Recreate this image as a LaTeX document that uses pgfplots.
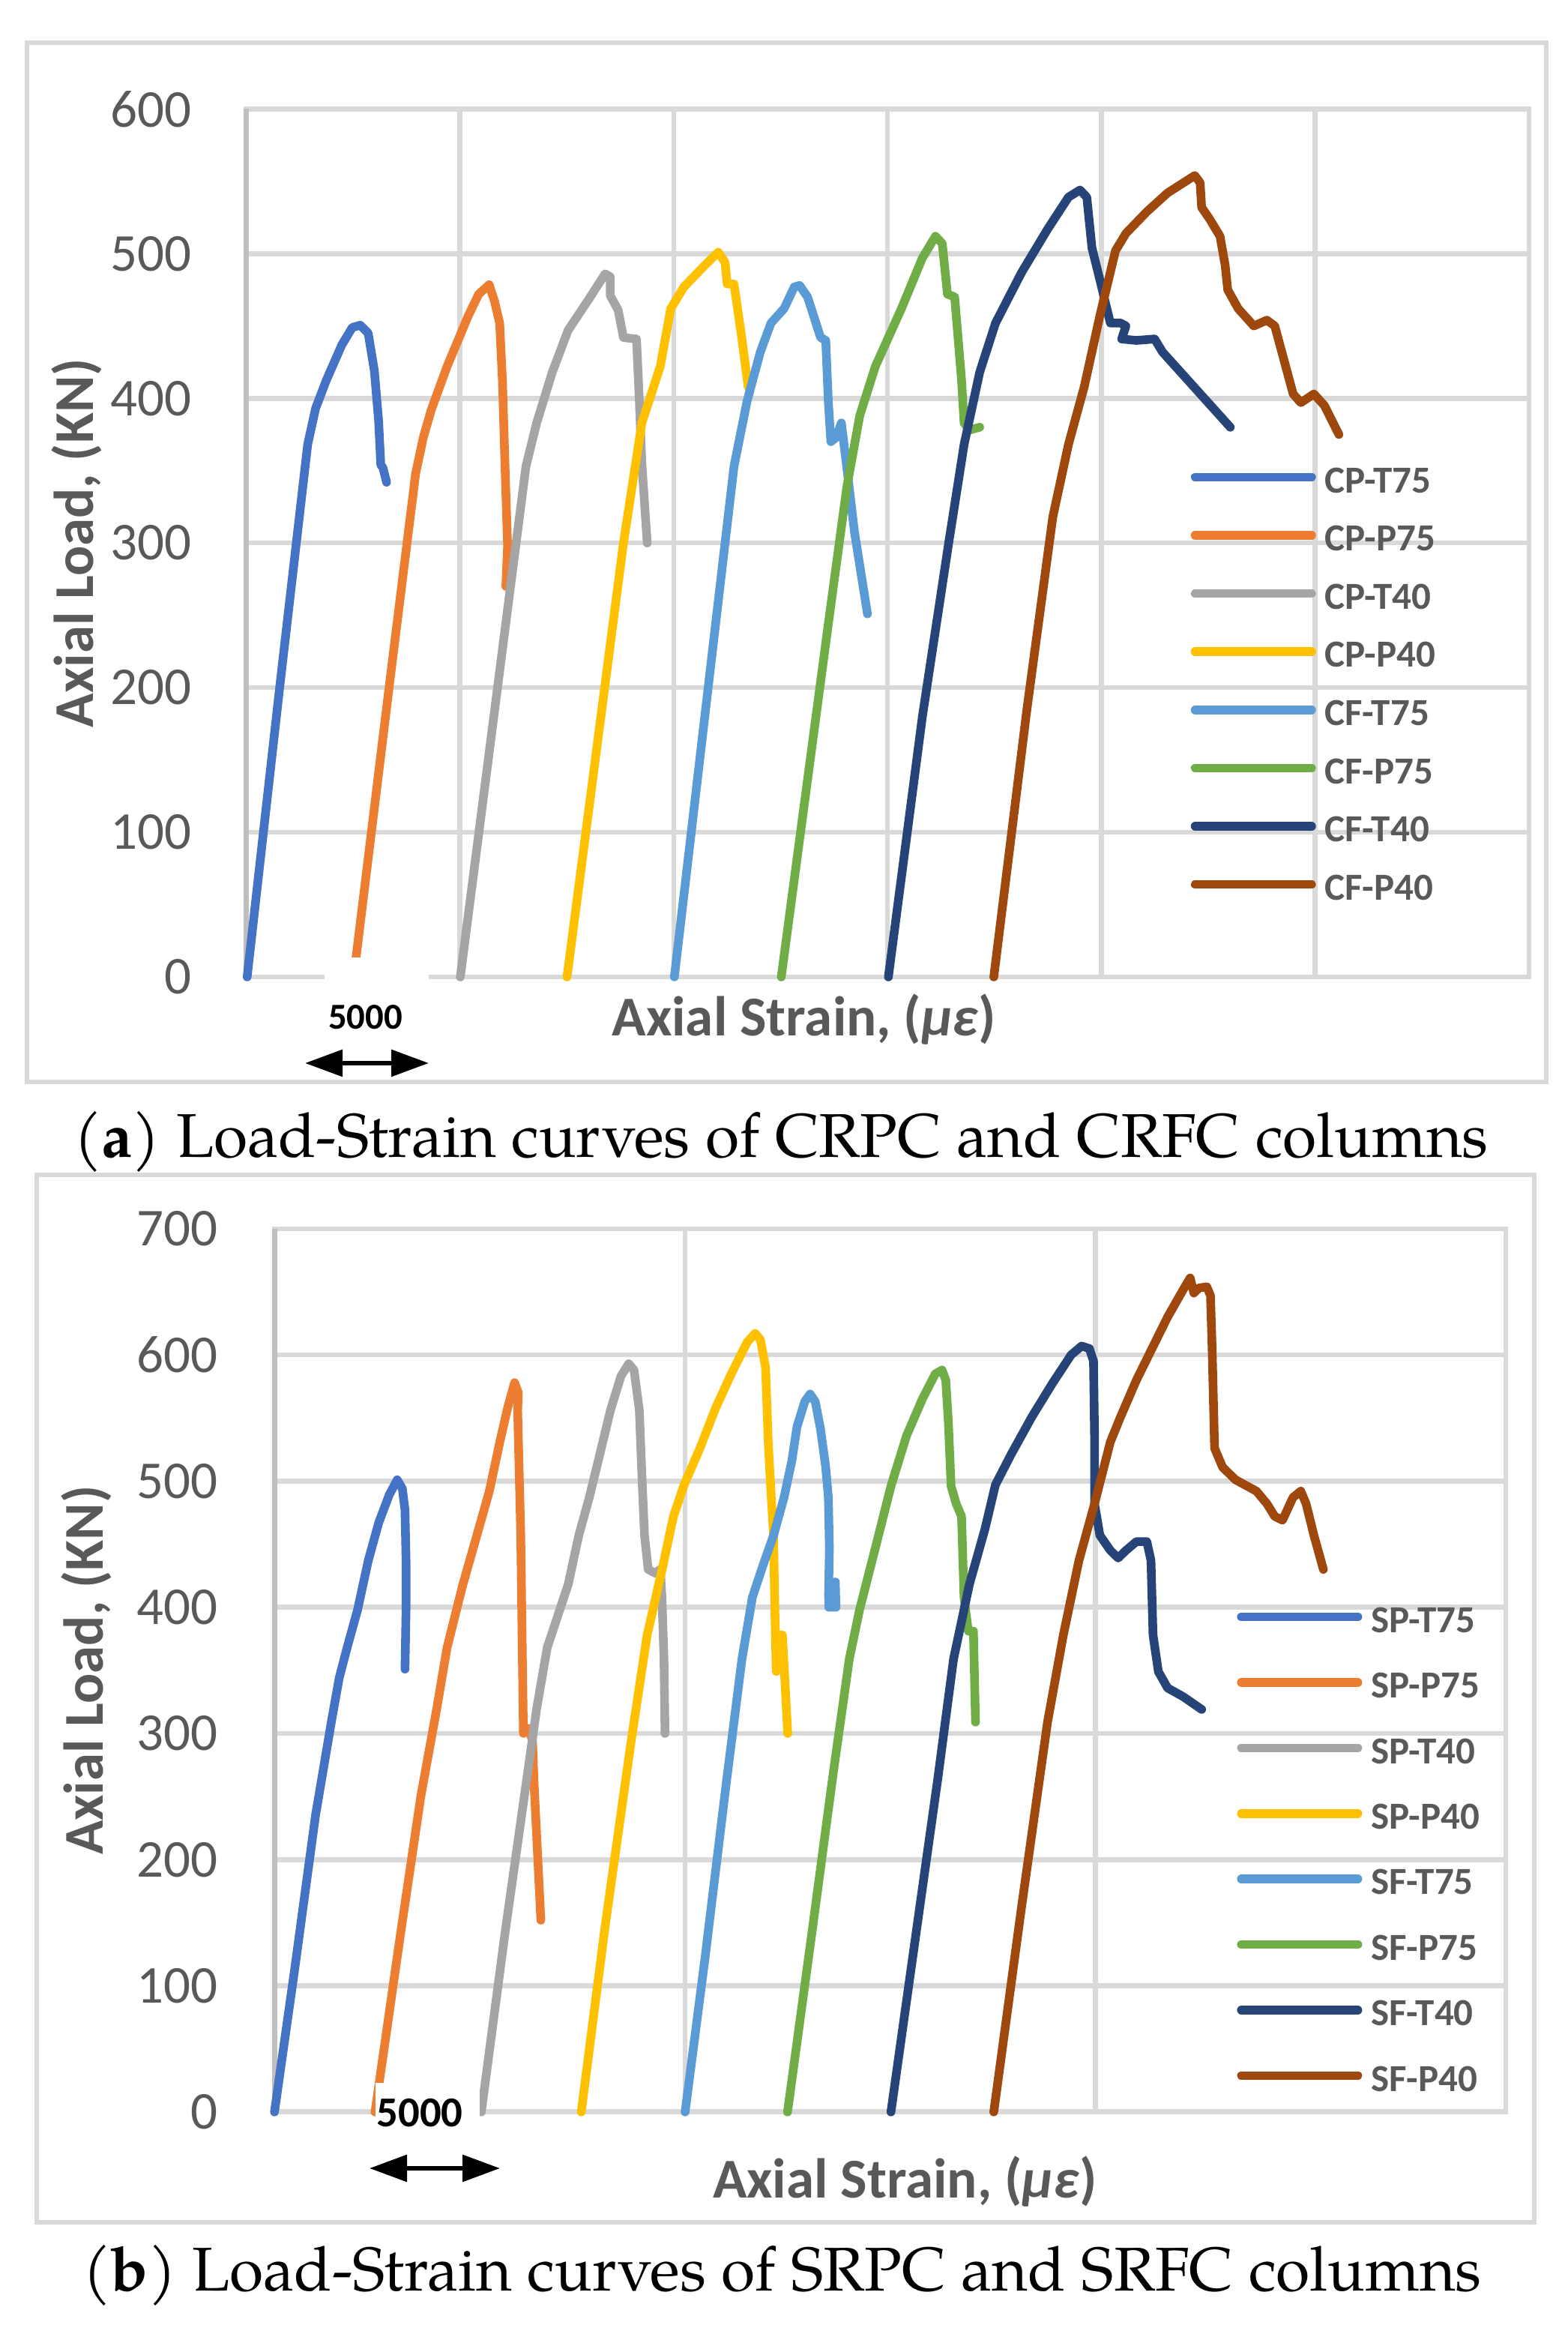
\documentclass[border=0pt]{standalone}
\usepackage{fontspec}
\setmainfont{Carlito}
\newfontfamily\capfont{TeX Gyre Pagella}
\usepackage{pgfplots}
\pgfplotsset{compat=1.18}
\usetikzlibrary{arrows.meta}
\definecolor{gridgray}{HTML}{D9D9D9}
\definecolor{axgray}{HTML}{BFBFBF}
\definecolor{txtgray}{HTML}{595959}
\definecolor{cA}{HTML}{4472C4}
\definecolor{cB}{HTML}{ED7D31}
\definecolor{cC}{HTML}{A5A5A5}
\definecolor{cD}{HTML}{FFC000}
\definecolor{cE}{HTML}{5B9BD5}
\definecolor{cF}{HTML}{70AD47}
\definecolor{cG}{HTML}{264478}
\definecolor{cH}{HTML}{9E480E}
\newcommand\tickfont{\fontsize{17.75}{20}\selectfont}
\newcommand\labfont{\bfseries\fontsize{18.75}{22}\selectfont}
\newcommand\legfont{\bfseries\fontsize{12.75}{14}\selectfont}
\pgfplotsset{
  myaxis/.style={
    scale only axis, anchor=south west, xmin=0, xmax=60000, ymin=0, clip=false,
    grid=major, major grid style={draw=gridgray, line width=1.65pt},
    axis line style={draw=gridgray, line width=1.65pt},
    tick style={draw=none}, major tick length=0pt,
    scaled x ticks=false, scaled y ticks=false,
    xticklabel={\phantom{0}},
    yticklabel style={font=\tickfont, text=txtgray, anchor=east, inner sep=0pt},
    /pgf/number format/assume math mode=true,
    legend cell align=left,
    legend style={draw=none, fill=none, inner sep=0pt, outer sep=0pt, font=\legfont, text=txtgray,
      anchor=north west, nodes={inner sep=0pt, text height=8.2pt, text depth=0pt}},
    legend image code/.code={\draw[##1, line width=2.9pt, line cap=round] (1.45pt,1.1pt) -- (40.3pt,1.1pt); \path (0pt,1.1pt) (43.25pt,1.1pt);},
    every axis plot/.append style={line width=2.9pt, line join=round, line cap=round},
    no markers,
  }
}
\begin{document}
\begin{tikzpicture}
\useasboundingbox (0,0) rectangle (522.75pt,775.25pt);
\draw[gridgray, line width=1.6pt] (9pt,414.5pt) rectangle (515.75pt,761pt);
\draw[gridgray, line width=1.6pt] (12.25pt,34.25pt) rectangle (511.75pt,383.5pt);
% ---------------- panel (a)
\begin{axis}[myaxis, at={(82.08pt,449.5pt)}, width=427.9pt, height=289.4pt,
  ymax=600, xtick={0,10000,...,60000}, ytick={0,100,...,600},
  yticklabel style={xshift=-18pt},
  xlabel={Axial Strain, (\textit{με})}, ylabel={Axial Load, (KN)},
  every axis x label/.style={at={(axis description cs:0.435,0)}, anchor=base, yshift=-19.75pt, font=\labfont, text=txtgray, inner sep=0pt},
  every axis y label/.style={at={(axis description cs:-0.1323,0.5)}, rotate=90, anchor=center, font=\labfont, text=txtgray, inner sep=0pt},
  legend style={at={(axis description cs:0.733,0.5862)}, row sep=11.2pt},
]
\draw[axgray, line width=1.65pt] (rel axis cs:0,0) -- (rel axis cs:0,1);
\addplot[cA] coordinates {(50,0) (1570,200) (2880,368) (3250,393) (3740,412) (4480,437) (4970,449) (5340,450.5) (5710,445) (6000,419) (6200,384) (6300,354) (6400,352) (6570,342)};
\addplot[cB] coordinates {(5140,13) (6720,204) (7930,348) (8290,373) (8660,392) (9400,422) (10390,457) (10880,472) (11370,478.5) (11620,467) (11860,452) (11990,412) (12110,353) (12230,298) (12150,270)};
\addplot[cC] coordinates {(10020,0) (13090,353) (13590,383) (14320,418) (15060,447) (16050,469) (16790,486) (17030,484) (17030,471) (17400,461) (17650,442) (18260,441) (18390,399) (18510,355) (18760,300)};
\addplot[cD] coordinates {(15010,0) (17650,300) (18510,383) (19370,422) (19860,462) (20480,477) (21460,492) (22080,501) (22400,494) (22500,479) (22820,479) (23180,442) (23480,408)};
\addplot[cE] coordinates {(20030,0) (22820,353) (23430,398) (24050,432) (24550,452) (25160,462) (25640,477) (25890,478) (26260,470) (26870,442) (27110,440) (27230,398) (27350,370) (27600,373) (27840,383) (28090,353) (28450,308) (29060,251)};
\addplot[cF] coordinates {(25030,0) (27230,244) (28090,338) (28700,388) (29430,422) (30650,462) (31630,497) (32240,512) (32560,507) (32800,472) (33140,470) (33460,413) (33580,383) (33820,378) (34310,380)};
\addplot[cG] coordinates {(30040,0) (31630,180) (32850,299) (33580,368) (34310,418) (35050,452) (36270,487) (37490,517) (38460,539) (39000,544) (39320,539) (39560,504) (39930,482) (40420,452) (40900,452) (41150,450) (40950,441) (41640,440) (42490,441) (42860,432) (46030,380)};
\addplot[cH] coordinates {(34970,0) (36510,184) (37730,318) (38460,368) (39200,408) (39930,457) (40660,502) (41150,514) (42130,529) (43100,542) (43840,549) (44370,554) (44620,549) (44690,532) (45060,524) (45550,512) (45790,492) (45910,475) (46400,462) (47130,450) (47740,454) (48110,450) (48970,403) (49330,397) (49940,403) (50430,395) (51110,375)};
\legend{CP-T75,CP-P75,CP-T40,CP-P40,CF-T75,CF-P75,CF-T40,CF-P40}
\end{axis}
% ---------------- panel (b)
\begin{axis}[myaxis, at={(91.55pt,71.05pt)}, width=410.7pt, height=294.5pt,
  ymax=700, xtick={0,20000,40000,60000}, ytick={0,100,...,700},
  yticklabel style={xshift=-18.75pt},
  xlabel={Axial Strain, (\textit{με})}, ylabel={Axial Load, (KN)},
  every axis x label/.style={at={(axis description cs:0.512,0)}, anchor=base, yshift=-28.75pt, font=\labfont, text=txtgray, inner sep=0pt},
  every axis y label/.style={at={(axis description cs:-0.1527,0.5)}, rotate=90, anchor=center, font=\labfont, text=txtgray, inner sep=0pt},
  legend style={at={(axis description cs:0.7782,0.5707)}, row sep=13.65pt},
]
\draw[axgray, line width=1.65pt] (rel axis cs:0,0) -- (rel axis cs:0,1);
\addplot[cA] coordinates {(0,0) (975,112) (2000,235) (2770,309) (3155,344) (3540,368) (4050,398) (4570,437) (5080,467) (5590,489) (5980,501) (6230,494) (6360,477) (6410,437) (6410,398) (6360,351)};
\addplot[cB] coordinates {(4900,0) (6105,137) (7130,250) (7900,319) (8410,368) (9180,418) (9950,462) (10470,492) (10980,531) (11360,558) (11700,578) (11880,570) (11850,556) (12000,457) (12080,359) (12130,300) (12340,304) (12570,295) (12650,260) (12980,152)};
\addplot[cC] coordinates {(10080,0) (11235,142) (12260,260) (12770,319) (13290,368) (13800,393) (14310,418) (14830,457) (15340,487) (15850,521) (16370,556) (16880,583) (17260,593) (17520,588) (17780,556) (17900,506) (18030,457) (18210,430) (18550,427) (18800,430) (18880,408) (18980,359) (19030,300)};
\addplot[cD] coordinates {(14950,0) (16110,147) (17390,295) (18160,378) (18930,433) (19440,472) (19960,497) (20730,526) (21500,558) (22260,585) (23030,610) (23420,617) (23680,612) (23930,590) (24060,531) (24190,492) (24320,457) (24370,408) (24450,349) (24570,378) (24750,378) (24880,339) (25010,300)};
\addplot[cE] coordinates {(20010,0) (20980,122) (22010,260) (22780,359) (23290,408) (23800,433) (24320,457) (24830,487) (25210,516) (25460,543) (25840,563) (26100,569) (26350,563) (26610,541) (26860,511) (26990,487) (27040,447) (27000,410) (27010,400) (27300,400) (27330,420) (27360,400)};
\addplot[cF] coordinates {(25000,0) (26230,147) (27240,270) (28010,359) (28510,398) (29280,447) (30040,496) (30800,536) (31570,565) (32200,585) (32530,588) (32710,580) (32840,546) (32970,496) (33220,482) (33480,472) (33600,408) (33810,381) (34060,381) (34160,309)};
\addplot[cG] coordinates {(30040,0) (31310,147) (32330,265) (33090,359) (33860,418) (34620,462) (35130,497) (35890,521) (36910,551) (37930,578) (38820,600) (39330,607) (39710,605) (39910,595) (39960,536) (39960,482) (40220,457) (40730,445) (41110,439) (41490,445) (42000,452) (42510,452) (42710,437) (42810,378) (43070,349) (43520,336) (44290,329) (45180,319)};
\addplot[cH] coordinates {(35050,0) (36400,162) (37670,309) (38440,378) (39200,437) (39960,482) (40730,531) (41230,551) (42000,580) (42760,605) (43520,630) (44290,652) (44620,661) (44800,649) (45050,653) (45430,654) (45610,647) (45690,605) (45810,526) (46200,511) (46830,501) (47850,492) (48360,482) (48740,472) (49120,469) (49630,487) (50010,492) (50270,482) (50650,457) (51110,430)};
\legend{SP-T75,SP-P75,SP-T40,SP-P40,SF-T75,SF-P75,SF-T40,SF-P40}
\end{axis}
% ---------------- annotations
\fill[white] (108.25pt,426.5pt) rectangle (143pt,456pt);
\node[anchor=base, inner sep=0pt, font=\bfseries\fontsize{12.2}{14}\selectfont] at (121.9pt,432pt) {5000};
\draw[line width=1.5pt, {Triangle[length=12.5pt,width=8.75pt]}-{Triangle[length=12.5pt,width=8.75pt]}] (101.75pt,420.75pt) -- (143pt,420.75pt);
\fill[white] (125.25pt,62.75pt) rectangle (160pt,80.75pt);
\node[anchor=base, inner sep=0pt, font=\bfseries\fontsize{14.2}{16}\selectfont] at (140pt,66pt) {5000};
\draw[line width=1.5pt, {Triangle[length=12.5pt,width=8.75pt]}-{Triangle[length=12.5pt,width=8.75pt]}] (123.25pt,52.25pt) -- (166.75pt,52.25pt);
\node[anchor=base, inner sep=0pt, font=\capfont\fontsize{20.6}{24}\selectfont] at (260.5pt,389.25pt) {(\textbf{a}) Load-Strain curves of CRPC and CRFC columns};
\node[anchor=base, inner sep=0pt, font=\capfont\fontsize{20.6}{24}\selectfont] at (260.9pt,11.25pt) {(\textbf{b}) Load-Strain curves of SRPC and SRFC columns};
\end{tikzpicture}
\end{document}
